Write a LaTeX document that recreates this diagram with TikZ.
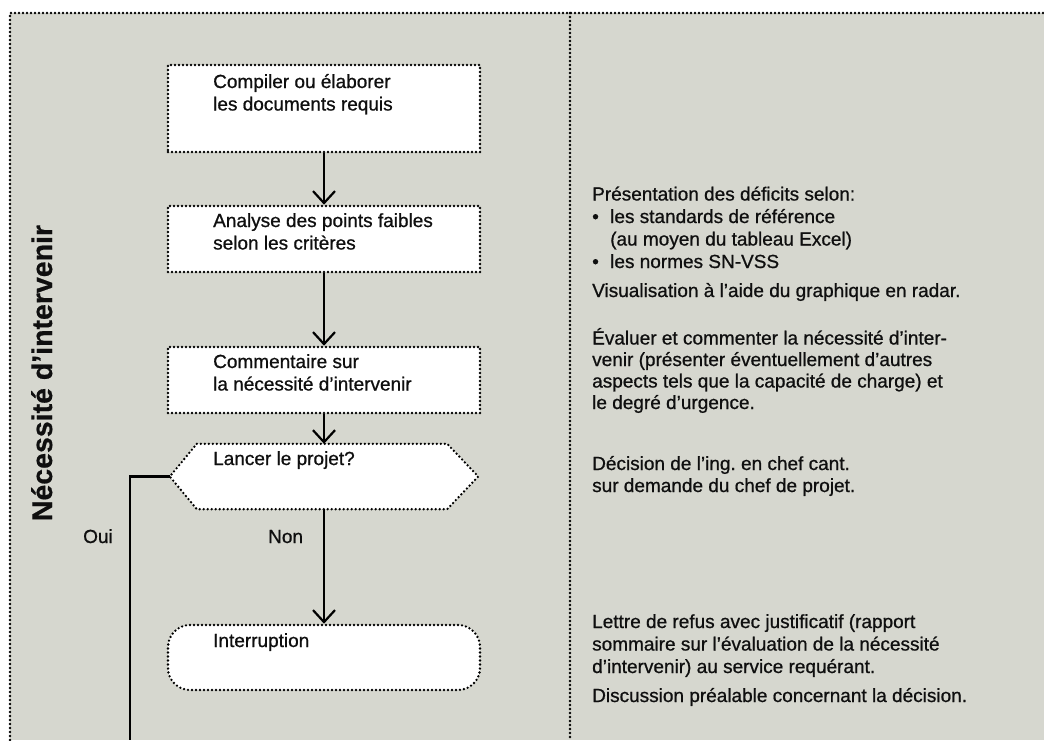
\documentclass[tikz,border=0pt]{standalone}
\usepackage{fontspec}
\setmainfont{Liberation Sans}[UprightFeatures={FakeBold=0.8},BoldFeatures={FakeBold=0.6}]
\usetikzlibrary{arrows.meta}
\definecolor{panel}{RGB}{214,215,207}
\definecolor{ink}{RGB}{15,15,15}
\frenchspacing
\begin{document}
\begin{tikzpicture}[x=1pt,y=-1pt,
  dotline/.style={line width=2.6pt, line cap=round, dash pattern=on 0pt off 4pt},
  stepbox/.style={rectangle, draw, dotline, fill=white, minimum width=312pt, inner sep=0pt},
  flow/.style={line width=2.2pt, -{Straight Barb[length=12pt,width=22pt]}},
  txt/.style={anchor=base west, inner sep=0pt, font=\fontsize{19}{22.5}\selectfont, text=ink},
]
% canvas and panel
\useasboundingbox (0,0) rectangle (1044,740);
\fill[white] (0,0) rectangle (1044,740);
\fill[panel] (10,13) rectangle (1044,740);
\draw[dotline] (10,740) -- (10,13) -- (1044,13);
\draw[dotline] (570,13) -- (570,740);

% side title
\node[rotate=90, anchor=base, inner sep=0pt, text=ink,
      font=\fontsize{28.5}{28.5}\selectfont\bfseries] (title) at (52,373) {Nécessité d’intervenir};

% process steps
\node[stepbox, minimum height=87pt] (b1) at (324,108.5) {};
\node[stepbox, minimum height=66pt] (b2) at (324,239) {};
\node[stepbox, minimum height=66pt] (b3) at (324,380) {};
\node[rectangle, inner sep=0pt, minimum width=308pt, minimum height=65pt] (hex) at (324,476.5) {};
\draw[dotline, fill=white] ([xshift=27pt]hex.north west) -- ([xshift=-31pt]hex.north east)
  -- (hex.east) -- ([xshift=-31pt]hex.south east) -- ([xshift=27pt]hex.south west)
  -- (hex.west) -- cycle;
\node[stepbox, rounded corners=22pt, minimum height=65pt] (intr) at (324,657.5) {};

% connectors
\draw[flow] (b1) -- (b2);
\draw[flow] (b2) -- (b3);
\draw[flow] (b3) -- (hex.north);
\draw[flow] (hex.south) -- (intr);
\coordinate (ouiEnd) at (130,740);
\draw[line width=2.2pt] (hex.west) -| (ouiEnd);

% step texts
\node[txt] (t1a) at (213,88) {Compiler ou élaborer};
\node[txt] (t1b) at (213,110.5) {les documents requis};
\node[txt] (t2a) at (213,227) {Analyse des points faibles};
\node[txt] (t2b) at (213,249.5) {selon les critères};
\node[txt] (t3a) at (213,368) {Commentaire sur};
\node[txt] (t3b) at (213,390.5) {la nécessité d’intervenir};
\node[txt] (t4) at (213,465) {Lancer le projet?};
\node[txt] (t5) at (213,647) {Interruption};
\node[txt] (oui) at (83,543) {Oui};
\node[txt] (non) at (268,543) {Non};

% notes column
\node[txt] (r1) at (592,200.5) {Présentation des déficits selon:};
\node[txt] (r2d) at (592,223) {•};
\node[txt] (r2) at (610,223) {les standards de référence};
\node[txt] (r3) at (610,245.5) {(au moyen du tableau Excel)};
\node[txt] (r4d) at (592,268) {•};
\node[txt] (r4) at (610,268) {les normes SN-VSS};
\node[txt] (r5) at (592,297) {Visualisation à l’aide du graphique en radar.};

\node[txt] (r6) at (592,344.5) {Évaluer et commenter la nécessité d’inter-};
\node[txt] (r7) at (592,366) {venir (présenter éventuellement d’autres};
\node[txt] (r8) at (592,387.5) {aspects tels que la capacité de charge) et};
\node[txt] (r9) at (592,409) {le degré d’urgence.};

\node[txt] (r10) at (592,470) {Décision de l’ing. en chef cant.};
\node[txt] (r11) at (592,492) {sur demande du chef de projet.};

\node[txt] (r12) at (592,628) {Lettre de refus avec justificatif (rapport};
\node[txt] (r13) at (592,650.5) {sommaire sur l’évaluation de la nécessité};
\node[txt] (r14) at (592,673) {d’intervenir) au service requérant.};
\node[txt] (r15) at (592,702) {Discussion préalable concernant la décision.};
\end{tikzpicture}
\end{document}
